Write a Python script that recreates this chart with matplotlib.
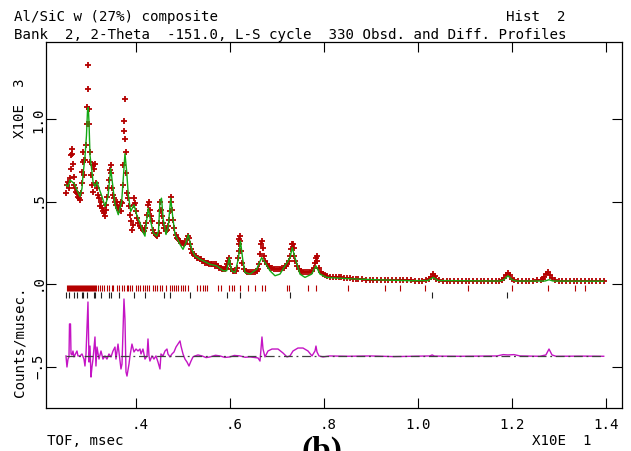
import matplotlib
matplotlib.use("Agg")
import matplotlib.pyplot as plt
from matplotlib.transforms import ScaledTranslation, blended_transform_factory

# ---------------- data (x in X10E1 msec, y in X10E3 counts/musec) ----------------
obs_tof = [
    0.252, 0.254, 0.256, 0.258, 0.260, 0.262, 0.263, 0.264, 0.265, 0.266,
    0.268, 0.270, 0.272, 0.274, 0.276, 0.278, 0.280, 0.282, 0.284, 0.286,
    0.287, 0.288, 0.289, 0.290, 0.291, 0.292, 0.294, 0.296, 0.297, 0.298,
    0.299, 0.300, 0.301, 0.302, 0.304, 0.306, 0.308, 0.309, 0.310, 0.312,
    0.314, 0.316, 0.318, 0.320, 0.322, 0.324, 0.326, 0.328, 0.330, 0.332,
    0.334, 0.336, 0.338, 0.340, 0.342, 0.344, 0.346, 0.347, 0.348, 0.350,
    0.352, 0.354, 0.356, 0.358, 0.360, 0.362, 0.364, 0.366, 0.368, 0.370,
    0.372, 0.373, 0.374, 0.375, 0.376, 0.377, 0.378, 0.379, 0.380, 0.382,
    0.384, 0.386, 0.388, 0.390, 0.392, 0.394, 0.396, 0.397, 0.398, 0.400,
    0.403, 0.406, 0.409, 0.412, 0.415, 0.418, 0.421, 0.423, 0.425, 0.427,
    0.428, 0.430, 0.432, 0.434, 0.437, 0.440, 0.443, 0.446, 0.449, 0.450,
    0.451, 0.452, 0.454, 0.456, 0.458, 0.461, 0.464, 0.467, 0.469, 0.471,
    0.473, 0.475, 0.476, 0.478, 0.480, 0.482, 0.485, 0.488, 0.491, 0.494,
    0.497, 0.500, 0.503, 0.506, 0.509, 0.511, 0.513, 0.515, 0.518, 0.521,
    0.524, 0.527, 0.530, 0.533, 0.536, 0.539, 0.542, 0.545, 0.548, 0.551,
    0.554, 0.557, 0.560, 0.563, 0.566, 0.569, 0.572, 0.575, 0.578, 0.581,
    0.584, 0.587, 0.590, 0.593, 0.595, 0.597, 0.599, 0.601, 0.604, 0.607,
    0.610, 0.613, 0.616, 0.618, 0.619, 0.620, 0.621, 0.622, 0.623, 0.625,
    0.627, 0.630, 0.634, 0.638, 0.642, 0.646, 0.650, 0.654, 0.658, 0.661,
    0.663, 0.665, 0.667, 0.669, 0.671, 0.673, 0.675, 0.679, 0.683, 0.687,
    0.691, 0.695, 0.699, 0.703, 0.707, 0.711, 0.715, 0.719, 0.723, 0.726,
    0.728, 0.730, 0.732, 0.734, 0.736, 0.738, 0.740, 0.743, 0.747, 0.751,
    0.755, 0.759, 0.763, 0.767, 0.771, 0.775, 0.779, 0.781, 0.783, 0.785,
    0.787, 0.790, 0.794, 0.798, 0.803, 0.808, 0.814, 0.820, 0.826, 0.832,
    0.838, 0.844, 0.850, 0.856, 0.862, 0.868, 0.874, 0.882, 0.890, 0.898,
    0.906, 0.914, 0.922, 0.930, 0.938, 0.946, 0.954, 0.962, 0.970, 0.978,
    0.986, 0.994, 1.002, 1.010, 1.018, 1.024, 1.028, 1.032, 1.036, 1.040,
    1.046, 1.054, 1.062, 1.070, 1.078, 1.086, 1.094, 1.102, 1.110, 1.118,
    1.126, 1.134, 1.142, 1.150, 1.158, 1.166, 1.174, 1.180, 1.184, 1.188,
    1.192, 1.196, 1.200, 1.206, 1.214, 1.222, 1.230, 1.238, 1.246, 1.254,
    1.262, 1.266, 1.270, 1.274, 1.278, 1.282, 1.286, 1.292, 1.300, 1.308,
    1.316, 1.324, 1.332, 1.340, 1.348, 1.356, 1.364, 1.372, 1.380, 1.388,
    1.396,
]
obs_cnt = [
    0.55, 0.60, 0.62, 0.58, 0.64, 0.70, 0.78, 0.82, 0.79, 0.73,
    0.65, 0.60, 0.58, 0.56, 0.55, 0.53, 0.52, 0.51, 0.55, 0.61,
    0.68, 0.80, 0.74, 0.75, 0.66, 0.75, 0.84, 0.97, 1.07, 1.18,
    1.33, 1.06, 0.97, 0.80, 0.74, 0.66, 0.60, 0.56, 0.72, 0.70,
    0.73, 0.61, 0.58, 0.54, 0.52, 0.47, 0.50, 0.46, 0.44, 0.43,
    0.41, 0.45, 0.48, 0.53, 0.58, 0.63, 0.69, 0.72, 0.67, 0.58,
    0.54, 0.52, 0.50, 0.48, 0.50, 0.46, 0.45, 0.47, 0.50, 0.44,
    0.49, 0.60, 0.72, 0.93, 0.99, 1.12, 0.88, 0.80, 0.67, 0.55,
    0.52, 0.47, 0.42, 0.38, 0.33, 0.36, 0.48, 0.52, 0.49, 0.44,
    0.40, 0.37, 0.35, 0.34, 0.33, 0.32, 0.34, 0.37, 0.42, 0.48,
    0.50, 0.45, 0.41, 0.38, 0.33, 0.31, 0.30, 0.29, 0.31, 0.37,
    0.44, 0.50, 0.45, 0.41, 0.37, 0.34, 0.32, 0.33, 0.35, 0.39,
    0.44, 0.50, 0.53, 0.45, 0.39, 0.34, 0.30, 0.28, 0.27, 0.26,
    0.25, 0.25, 0.24, 0.25, 0.27, 0.29, 0.28, 0.24, 0.21, 0.19,
    0.18, 0.17, 0.16, 0.16, 0.15, 0.15, 0.14, 0.14, 0.13, 0.13,
    0.13, 0.12, 0.12, 0.12, 0.12, 0.11, 0.12, 0.11, 0.10, 0.10,
    0.09, 0.09, 0.09, 0.10, 0.12, 0.14, 0.16, 0.12, 0.09, 0.08,
    0.08, 0.08, 0.10, 0.16, 0.20, 0.24, 0.27, 0.29, 0.26, 0.20,
    0.13, 0.09, 0.08, 0.07, 0.07, 0.07, 0.07, 0.07, 0.08, 0.09,
    0.12, 0.18, 0.24, 0.26, 0.22, 0.17, 0.14, 0.12, 0.11, 0.10,
    0.10, 0.09, 0.09, 0.09, 0.09, 0.10, 0.10, 0.11, 0.12, 0.14,
    0.17, 0.21, 0.24, 0.24, 0.22, 0.17, 0.14, 0.11, 0.09, 0.08,
    0.07, 0.07, 0.07, 0.07, 0.07, 0.08, 0.10, 0.13, 0.16, 0.17,
    0.14, 0.10, 0.07, 0.06, 0.055, 0.05, 0.045, 0.045, 0.04, 0.04,
    0.04, 0.035, 0.035, 0.035, 0.03, 0.03, 0.03, 0.028, 0.027, 0.027,
    0.026, 0.026, 0.025, 0.024, 0.025, 0.024, 0.023, 0.024, 0.023, 0.022,
    0.022, 0.021, 0.021, 0.021, 0.022, 0.030, 0.045, 0.060, 0.048, 0.030,
    0.022, 0.020, 0.019, 0.020, 0.019, 0.019, 0.019, 0.018, 0.019, 0.018,
    0.019, 0.018, 0.018, 0.019, 0.018, 0.019, 0.021, 0.025, 0.035, 0.052,
    0.068, 0.052, 0.032, 0.022, 0.020, 0.019, 0.019, 0.018, 0.020, 0.022,
    0.026, 0.032, 0.045, 0.062, 0.070, 0.055, 0.036, 0.024, 0.020, 0.019,
    0.018, 0.019, 0.018, 0.018, 0.019, 0.018, 0.018, 0.018, 0.019, 0.018,
    0.018,
]

calc_tof = [
    0.2519, 0.2562, 0.2604, 0.2647, 0.2689, 0.2753, 0.2817, 0.2860, 0.2881, 0.2923,
    0.2955, 0.2977, 0.2994, 0.3009, 0.3030, 0.3072, 0.3094, 0.3136, 0.3179, 0.3221,
    0.3285, 0.3349, 0.3413, 0.3470, 0.3513, 0.3562, 0.3632, 0.3704, 0.3738, 0.3774,
    0.3811, 0.3845, 0.3896, 0.3966, 0.4023, 0.4094, 0.4164, 0.4200, 0.4232, 0.4270,
    0.4321, 0.4377, 0.4449, 0.4487, 0.4519, 0.4551, 0.4589, 0.4647, 0.4696, 0.4747,
    0.4789, 0.4838, 0.4945, 0.5009, 0.5072, 0.5121, 0.5194, 0.5264, 0.5370, 0.5583,
    0.5726, 0.5866, 0.5938, 0.5966, 0.5994, 0.6019, 0.6045, 0.6115, 0.6185, 0.6232,
    0.6279, 0.6328, 0.6434, 0.6577, 0.6636, 0.6683, 0.6753, 0.6860, 0.6966, 0.7072,
    0.7179, 0.7285, 0.7334, 0.7391, 0.7498, 0.7604, 0.7747, 0.7838, 0.7923, 0.8066,
    0.8349, 0.8704, 0.9200, 0.9838, 1.0221, 1.0330, 1.0434, 1.1753, 1.1838, 1.1923,
    1.2009, 1.2094, 1.2711, 1.2796, 1.2881, 1.3960,
]
calc_cnt = [
    0.60, 0.59, 0.63, 0.62, 0.61, 0.57, 0.53, 0.58, 0.66, 0.77,
    0.90, 1.05, 1.07, 0.98, 0.78, 0.68, 0.62, 0.59, 0.62, 0.58,
    0.53, 0.47, 0.53, 0.70, 0.60, 0.48, 0.42, 0.50, 0.64, 0.79,
    0.68, 0.54, 0.44, 0.48, 0.42, 0.37, 0.31, 0.29, 0.38, 0.46,
    0.38, 0.31, 0.29, 0.32, 0.50, 0.52, 0.39, 0.30, 0.35, 0.52,
    0.41, 0.30, 0.24, 0.21, 0.25, 0.30, 0.21, 0.17, 0.15, 0.12,
    0.11, 0.08, 0.08, 0.12, 0.16, 0.11, 0.08, 0.07, 0.15, 0.26,
    0.15, 0.07, 0.06, 0.09, 0.13, 0.16, 0.13, 0.08, 0.05, 0.06,
    0.11, 0.16, 0.22, 0.16, 0.06, 0.04, 0.06, 0.11, 0.06, 0.04,
    0.035, 0.03, 0.025, 0.02, 0.021, 0.04, 0.021, 0.018, 0.026, 0.05,
    0.026, 0.018, 0.018, 0.026, 0.018, 0.017,
]

diff_tof = [
    0.2519, 0.2540, 0.2562, 0.2583, 0.2594, 0.2615, 0.2626, 0.2647, 0.2668, 0.2689,
    0.2711, 0.2732, 0.2753, 0.2774, 0.2817, 0.2860, 0.2902, 0.2923, 0.2945, 0.2966,
    0.2987, 0.3009, 0.3030, 0.3051, 0.3072, 0.3094, 0.3136, 0.3157, 0.3179, 0.3221,
    0.3264, 0.3306, 0.3349, 0.3391, 0.3434, 0.3477, 0.3519, 0.3562, 0.3583, 0.3626,
    0.3668, 0.3689, 0.3711, 0.3732, 0.3753, 0.3774, 0.3796, 0.3817, 0.3860, 0.3881,
    0.3923, 0.3966, 0.4009, 0.4051, 0.4094, 0.4115, 0.4157, 0.4200, 0.4243, 0.4264,
    0.4285, 0.4306, 0.4349, 0.4391, 0.4434, 0.4477, 0.4519, 0.4540, 0.4583, 0.4626,
    0.4668, 0.4689, 0.4732, 0.4774, 0.4817, 0.4860, 0.4902, 0.4945, 0.4966, 0.5009,
    0.5051, 0.5094, 0.5136, 0.5179, 0.5221, 0.5264, 0.5328, 0.5413, 0.5500, 0.5583,
    0.5700, 0.5796, 0.5900, 0.6009, 0.6100, 0.6221, 0.6330, 0.6434, 0.6604, 0.6647,
    0.6689, 0.6711, 0.6753, 0.6817, 0.6902, 0.7030, 0.7136, 0.7221, 0.7285, 0.7349,
    0.7455, 0.7562, 0.7668, 0.7753, 0.7817, 0.7838, 0.7860, 0.7902, 0.7987, 0.8136,
    0.8500, 0.9000, 0.9500, 1.0000, 1.0260, 1.0310, 1.0360, 1.0900, 1.1690, 1.1820,
    1.1920, 1.2050, 1.2180, 1.2600, 1.2730, 1.2796, 1.2860, 1.2945, 1.3500, 1.3960,
]
diff_cnt = [
    -0.436, -0.503, -0.455, -0.442, -0.242, -0.242, -0.424, -0.430, -0.406, -0.442,
    -0.430, -0.418, -0.406, -0.436, -0.436, -0.424, -0.455, -0.497, -0.424, -0.273,
    -0.109, -0.473, -0.376, -0.564, -0.503, -0.455, -0.321, -0.497, -0.382, -0.455,
    -0.406, -0.455, -0.436, -0.455, -0.424, -0.442, -0.406, -0.382, -0.455, -0.364,
    -0.467, -0.515, -0.485, -0.291, -0.091, -0.212, -0.533, -0.558, -0.485, -0.436,
    -0.364, -0.412, -0.394, -0.406, -0.394, -0.424, -0.394, -0.455, -0.436, -0.333,
    -0.436, -0.467, -0.436, -0.455, -0.436, -0.473, -0.515, -0.424, -0.436, -0.406,
    -0.394, -0.424, -0.442, -0.424, -0.412, -0.382, -0.364, -0.345, -0.376, -0.424,
    -0.455, -0.473, -0.497, -0.467, -0.442, -0.436, -0.430, -0.436, -0.446, -0.442,
    -0.432, -0.436, -0.445, -0.442, -0.433, -0.436, -0.444, -0.442, -0.448, -0.467,
    -0.321, -0.394, -0.442, -0.406, -0.394, -0.394, -0.418, -0.442, -0.436, -0.406,
    -0.388, -0.388, -0.406, -0.436, -0.406, -0.376, -0.412, -0.436, -0.442, -0.436,
    -0.438, -0.436, -0.440, -0.437, -0.436, -0.430, -0.437, -0.438, -0.436, -0.428,
    -0.430, -0.428, -0.436, -0.438, -0.430, -0.394, -0.430, -0.438, -0.437, -0.438,
]
diff_zero = -0.438

# reflection markers: phase 1 (red) and phase 2 (black, Al)
phase1_ticks = [
    0.2540, 0.2562, 0.2583, 0.2604, 0.2626, 0.2647, 0.2668, 0.2689, 0.2711, 0.2732,
    0.2753, 0.2774, 0.2796, 0.2817, 0.2838, 0.2860, 0.2881, 0.2902, 0.2923, 0.2945,
    0.2966, 0.2987, 0.3009, 0.3030, 0.3051, 0.3072, 0.3094, 0.3115, 0.3136, 0.3157,
    0.3193, 0.3243, 0.3279, 0.3334, 0.3385, 0.3441, 0.3492, 0.3526, 0.3598, 0.3653,
    0.3704, 0.3753, 0.3811, 0.3845, 0.3881, 0.3917, 0.4009, 0.4058, 0.4094, 0.4151,
    0.4200, 0.4249, 0.4291, 0.4364, 0.4413, 0.4462, 0.4519, 0.4555, 0.4647, 0.4732,
    0.4768, 0.4817, 0.4860, 0.4909, 0.4960, 0.5015, 0.5051, 0.5121, 0.5300, 0.5370,
    0.5440, 0.5477, 0.5526, 0.5760, 0.5811, 0.5994, 0.6045, 0.6100, 0.6221, 0.6398,
    0.6540, 0.6683, 0.6753, 0.7228, 0.7270, 0.7675, 0.7838, 0.8513, 0.9306, 0.9626,
    1.0157, 1.1072, 1.2009, 1.2774, 1.3349, 1.3562,
]
phase2_ticks = [
    0.2519, 0.2577, 0.2684, 0.2755, 0.2859, 0.2887, 0.2976, 0.3108, 0.3144, 0.3260,
    0.3436, 0.3485, 0.3644, 0.3967, 0.4208, 0.4609, 0.4729, 0.5154, 0.5950, 0.6215,
    0.7290, 1.0310, 1.1900,
]

x_ticks = [0.4, 0.6, 0.8, 1.0, 1.2, 1.4]
x_tick_labels = ['.4', '.6', '.8', '1.0', '1.2', '1.4']
y_ticks = [1.0, 0.5, 0.0, -0.5]
y_tick_labels = ['1.0', '.5', '.0', '\u2212.5']

title_line1 = 'Al/SiC w (27%) composite'
title_hist = 'Hist  2'
title_line2 = 'Bank  2, 2-Theta  -151.0, L-S cycle  330 Obsd. and Diff. Profiles'
x_label = 'TOF, msec'
x_scale = 'X10E  1'
y_scale = 'X10E  3'
y_label = 'Counts/musec.'
panel_tag = '(b)'

# ---------------- figure ----------------
W, H = 631, 452
fig = plt.figure(figsize=(W / 100, H / 100), dpi=100)
fig.patch.set_facecolor('white')
L, R, T, B = 46, 622, 43, 409
ax = fig.add_axes([L / W, 1 - B / H, (R - L) / W, (B - T) / H])
ax.set_xlim(0.2094, 1.4349)
ax.set_ylim(-0.7515, 1.4667)

RED = '#b40000'
GREEN = '#14a814'
MAGENTA = '#c414c4'

ax.plot(obs_tof, obs_cnt, ls='none', marker='+', ms=5.0, mew=1.3, color=RED, zorder=2)
ax.plot(calc_tof, calc_cnt, color=GREEN, lw=1.0, zorder=3)
ax.plot(diff_tof, diff_cnt, color=MAGENTA, lw=1.0, zorder=3)
ax.hlines(diff_zero, obs_tof[0], obs_tof[-1], colors='#404040', lw=0.9,
          linestyles=(0, (7, 3, 1.5, 3)), zorder=4)
ax.vlines(phase1_ticks, -0.042, -0.006, colors=RED, lw=0.8, zorder=2)
ax.vlines(phase2_ticks, -0.083, -0.047, colors='#202020', lw=0.8, zorder=2)

for s in ax.spines.values():
    s.set_linewidth(0.9)
    s.set_color('black')
ax.set_xticks(x_ticks)
ax.set_yticks(y_ticks)
ax.tick_params(direction='in', length=7, width=0.8, top=True, right=True,
               labelbottom=False, labelleft=False, colors='black')

FONT = 'DejaVu Sans Mono'
FS = 10.15
px = lambda dx, dy: ScaledTranslation(dx / 100, dy / 100, fig.dpi_scale_trans)
tx = blended_transform_factory(ax.transData, ax.transAxes)
for t, lab in zip(x_ticks, x_tick_labels):
    dx = 5 if lab.startswith('.') else 0
    ax.text(t, 0, lab, transform=tx + px(dx, -9), ha='center', va='top',
            fontsize=FS, family=FONT, color='black')
ty = blended_transform_factory(ax.transAxes, ax.transData)
for v, lab in zip(y_ticks, y_tick_labels):
    dy = 3 if lab.startswith('.') else (1 if lab.startswith('\u2212') else 0)
    ax.text(0, v, lab, transform=ty + px(-8, dy), ha='center', va='center',
            rotation=90, fontsize=FS, family=FONT, color='black')

kw = dict(fontsize=FS, family=FONT, color='black')
fig.text(14 / W, 1 - 17 / H, title_line1, ha='left', va='center', **kw)
fig.text(566 / W, 1 - 17 / H, title_hist, ha='right', va='center', **kw)
fig.text(14 / W, 1 - 35 / H, title_line2, ha='left', va='center', **kw)
fig.text(20 / W, 1 - 108 / H, y_scale, ha='center', va='center', rotation=90, **kw)
fig.text(20 / W, 1 - 342 / H, y_label, ha='center', va='center', rotation=90, **kw)
fig.text(47 / W, 1 - 441 / H, x_label, ha='left', va='center', **kw)
fig.text(592 / W, 1 - 441 / H, x_scale, ha='right', va='center', **kw)
fig.text(322 / W, 1 - 436 / H, panel_tag, ha='center', va='top', fontsize=24,
         fontweight='bold', family='Liberation Serif')

fig.savefig('out.png', dpi=100, facecolor='white')
